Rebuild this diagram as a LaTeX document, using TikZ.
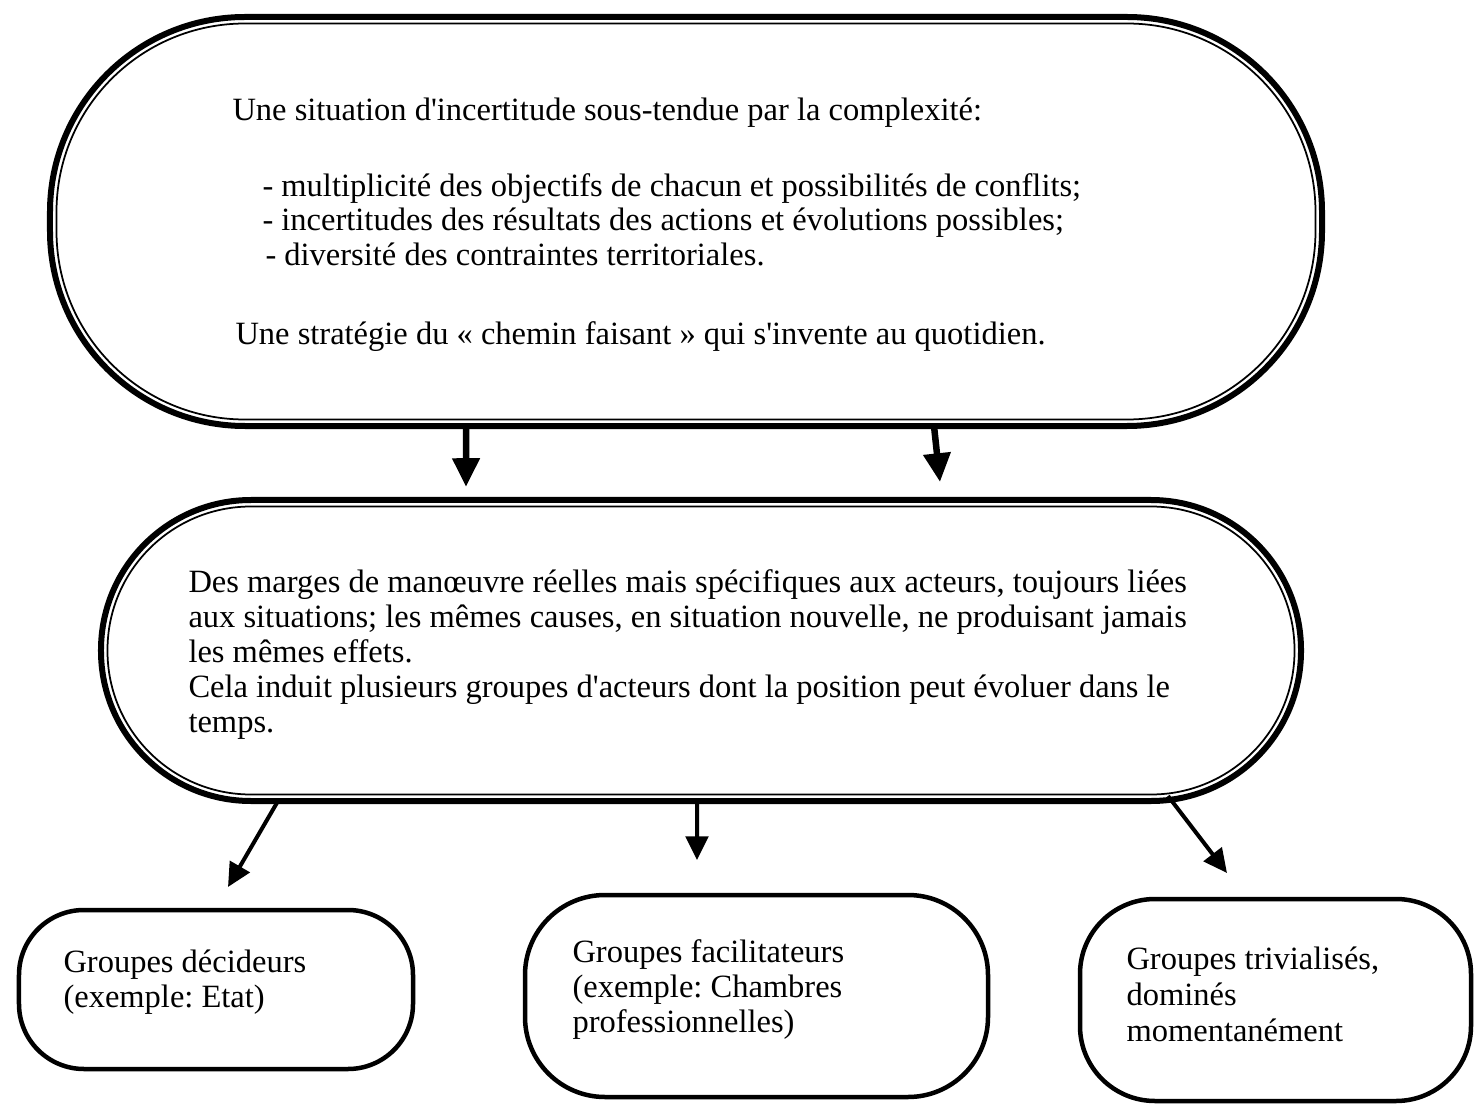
\documentclass[tikz,border=0pt]{standalone}
\usepackage{fontspec}
\setmainfont{Liberation Serif}[Ligatures=TeXOff]
\usetikzlibrary{arrows.meta}

\tikzset{
  bigbox/.style={draw, rounded corners=#1, line width=2.4pt, outer sep=0pt, inner sep=0pt},
  thinrim/.style={line width=0.7pt},
  grpbox/.style={draw, rounded corners=#1, line width=1.8pt, outer sep=0pt, inner sep=0pt},
  txt/.style={anchor=base west, inner sep=0pt, font=\fontsize{13pt}{14pt}\selectfont},
  bigarrow/.style={line width=2.6pt, -{Triangle[width=10.5pt,length=11.5pt]}},
  smallarrow/.style={line width=1.6pt, -{Triangle[width=9pt,length=9.5pt]}}
}

\begin{document}
\frenchspacing
\begin{tikzpicture}[x=0.4pt,y=-0.4pt]
\useasboundingbox (0,0) rectangle (1474,1105);

		\node [bigbox=78pt, minimum width=508.8pt, minimum height=163.6pt] (situation) at (686,221.5) {};
		\node [bigbox=60pt, minimum width=480pt, minimum height=120.4pt] (marges) at (701,650.5) {};
		\node [grpbox=26pt, minimum width=157.6pt, minimum height=63.6pt] (grpdec) at (216,989.5) {};
		\node [grpbox=32pt, minimum width=185.2pt, minimum height=80.8pt] (grpfac) at (756.5,996) {};
		\node [grpbox=30pt, minimum width=156.4pt, minimum height=80.8pt] (grptri) at (1275.5,1000) {};

		\draw [thinrim, rounded corners=75.4pt] ([shift={(2.6pt,-2.6pt)}]situation.north west) rectangle ([shift={(-2.6pt,2.6pt)}]situation.south east);
		\draw [thinrim, rounded corners=57.4pt] ([shift={(2.6pt,-2.6pt)}]marges.north west) rectangle ([shift={(-2.6pt,2.6pt)}]marges.south east);

		\node [txt] (sit1) at (232,121) {Une situation d'incertitude sous-tendue par la complexité:};
		\node [txt] (sit2) at (262,197) {- multiplicité des objectifs de chacun et possibilités de conflits;};
		\node [txt] (sit3) at (262,231) {- incertitudes des résultats des actions et évolutions possibles;};
		\node [txt] (sit4) at (265,266) {- diversité des contraintes territoriales.};
		\node [txt] (sit5) at (235,345) {Une stratégie du « chemin faisant » qui s'invente au quotidien.};

		\node [txt] (mar1) at (188,592) {Des marges de manœuvre réelles mais spécifiques aux acteurs, toujours liées};
		\node [txt] (mar2) at (188,627) {aux situations; les mêmes causes, en situation nouvelle, ne produisant jamais};
		\node [txt] (mar3) at (188,662) {les mêmes effets.};
		\node [txt] (mar4) at (188,697) {Cela induit plusieurs groupes d'acteurs dont la position peut évoluer dans le};
		\node [txt] (mar5) at (188,732) {temps.};

		\node [txt] (dec1) at (63,972) {Groupes décideurs};
		\node [txt] (dec2) at (63,1007) {(exemple: Etat)};
		\node [txt] (fac1) at (572,962) {Groupes facilitateurs};
		\node [txt] (fac2) at (572,997) {(exemple: Chambres};
		\node [txt] (fac3) at (572,1032) {professionnelles)};
		\node [txt] (tri1) at (1126,969) {Groupes trivialisés,};
		\node [txt] (tri2) at (1126,1005) {dominés};
		\node [txt] (tri3) at (1126,1041) {momentanément};

		\coordinate (tipl) at (466,487);
		\coordinate (tipr) at (940,482);
		\coordinate (tipdec) at (228,887);
		\coordinate (tipfac) at (697,860);
		\coordinate (tiptri) at (1227,873);

		\draw [bigarrow] ([xshift=-88pt]situation.south) to (tipl);
		\draw [bigarrow] ([xshift=99.2pt]situation.south) to (tipr);
		\draw [smallarrow] ([xshift=-169.2pt]marges.south) to (tipdec);
		\draw [smallarrow] ([xshift=-1.6pt]marges.south) to (tipfac);
		\draw [smallarrow] ([xshift=186.8pt,yshift=2pt]marges.south) to (tiptri);
\end{tikzpicture}
\end{document}
